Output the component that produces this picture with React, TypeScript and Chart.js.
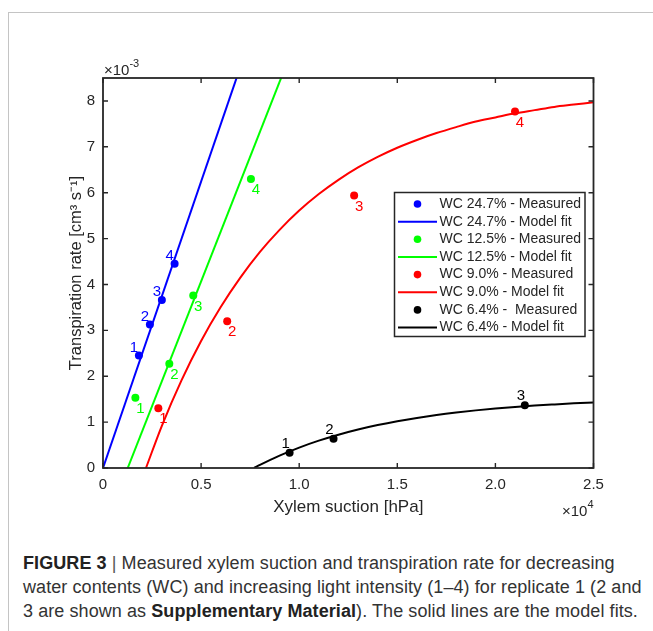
import React, { useEffect, useRef } from "react";
import { Chart, registerables } from "chart.js";
Chart.register(...registerables);

// ---- data (x in 10^4 hPa, y in 10^-3 cm^3 s^-1) ----
const xTicks = [0, 0.5, 1, 1.5, 2, 2.5];
const yTicks = [0, 1, 2, 3, 4, 5, 6, 7, 8];

const measuredLabels = [
  "WC 24.7% - Measured",
  "WC 12.5% - Measured",
  "WC 9.0% - Measured",
  "WC 6.4% -  Measured",
];
const fitLabels = [
  "WC 24.7% - Model fit",
  "WC 12.5% - Model fit",
  "WC 9.0% - Model fit",
  "WC 6.4% - Model fit",
];
const seriesColors = ["#0000ff", "#00ff00", "#ff0000", "#000000"];

const wc247X = [0.183, 0.239, 0.3, 0.365];
const wc247Y = [2.45, 3.13, 3.66, 4.45];
const wc125X = [0.165, 0.338, 0.46, 0.754];
const wc125Y = [1.53, 2.27, 3.76, 6.3];
const wc90X = [0.282, 0.633, 1.28, 2.1];
const wc90Y = [1.3, 3.2, 5.94, 7.77];
const wc64X = [0.951, 1.175, 2.15];
const wc64Y = [0.33, 0.64, 1.37];

const light247 = ["1", "2", "3", "4"];
const light125 = ["1", "2", "3", "4"];
const light90 = ["1", "2", "3", "4"];
const light64 = ["1", "2", "3"];

const fit247X = [0, 0.72];
const fit247Y = [0, 8.99];
const fit125X = [0.126, 0.95];
const fit125Y = [0, 8.96];
const fit90X = [0.219, 0.3, 0.4, 0.5, 0.6, 0.7, 0.8, 0.9, 1.0, 1.1, 1.2, 1.3, 1.4, 1.5, 1.6, 1.7, 1.8, 1.9, 2.0, 2.1, 2.2, 2.3, 2.4, 2.5];
const fit90Y = [0, 0.92, 1.91, 2.77, 3.51, 4.15, 4.71, 5.19, 5.61, 5.97, 6.28, 6.55, 6.78, 6.98, 7.15, 7.3, 7.43, 7.55, 7.64, 7.73, 7.8, 7.87, 7.92, 7.97];
const fit64X = [0.77, 0.8, 0.9, 1.0, 1.1, 1.2, 1.3, 1.4, 1.5, 1.6, 1.7, 1.8, 1.9, 2.0, 2.1, 2.2, 2.3, 2.4, 2.5];
const fit64Y = [0, 0.067, 0.27, 0.445, 0.596, 0.726, 0.839, 0.936, 1.02, 1.092, 1.155, 1.209, 1.256, 1.296, 1.331, 1.361, 1.386, 1.409, 1.428];

const measuredX = [wc247X, wc125X, wc90X, wc64X];
const measuredY = [wc247Y, wc125Y, wc90Y, wc64Y];
const lightLabels = [light247, light125, light90, light64];
const fitX = [fit247X, fit125X, fit90X, fit64X];
const fitY = [fit247Y, fit125Y, fit90Y, fit64Y];

// label offsets (style)
const labelOffsets = [
  [-5, -8],
  [5, 11],
  [5, 11],
  [-4, -9],
];

const FONT = "'Liberation Sans', Arial, Helvetica, sans-serif";
const AXIS_COLOR = "#262626";

const zip = (xs: number[], ys: number[]) => xs.map((x, i) => ({ x, y: ys[i] }));

const decorPlugin = {
  id: "decor",
  afterDatasetsDraw(chart: any) {
    const { ctx, chartArea, scales } = chart;
    const { left, right, top, bottom } = chartArea;
    const xs = scales.x;
    const ys = scales.y;
    ctx.save();
    // point labels
    ctx.font = `15px ${FONT}`;
    ctx.textAlign = "center";
    ctx.textBaseline = "middle";
    for (let s = 0; s < 4; s++) {
      ctx.fillStyle = seriesColors[s];
      measuredX[s].forEach((xv, i) => {
        const px = xs.getPixelForValue(xv) + labelOffsets[s][0];
        const py = ys.getPixelForValue(measuredY[s][i]) + labelOffsets[s][1];
        ctx.fillText(lightLabels[s][i], px, py);
      });
    }
    // axes box
    ctx.strokeStyle = AXIS_COLOR;
    ctx.lineWidth = 1.8;
    ctx.strokeRect(left, top, right - left, bottom - top);
    // inward ticks
    ctx.lineWidth = 1.4;
    const tl = 5;
    ctx.beginPath();
    xTicks.forEach((v) => {
      const px = xs.getPixelForValue(v);
      ctx.moveTo(px, bottom);
      ctx.lineTo(px, bottom - tl);
      ctx.moveTo(px, top);
      ctx.lineTo(px, top + tl);
    });
    yTicks.forEach((v) => {
      const py = ys.getPixelForValue(v);
      ctx.moveTo(left, py);
      ctx.lineTo(left + tl, py);
      ctx.moveTo(right, py);
      ctx.lineTo(right - tl, py);
    });
    ctx.stroke();
    // exponent labels
    ctx.fillStyle = AXIS_COLOR;
    ctx.textAlign = "left";
    ctx.textBaseline = "alphabetic";
    ctx.font = `15px ${FONT}`;
    ctx.fillText("\u00d710", left + 1, top - 3);
    const w = ctx.measureText("\u00d710").width;
    ctx.font = `11px ${FONT}`;
    ctx.fillText("-3", left + 1 + w, top - 11);
    // x multiplier
    ctx.font = `11px ${FONT}`;
    const w4 = ctx.measureText("4").width;
    ctx.font = `15px ${FONT}`;
    const w10 = ctx.measureText("\u00d710").width;
    ctx.fillText("\u00d710", right - w4 - w10, bottom + 48);
    ctx.font = `11px ${FONT}`;
    ctx.fillText("4", right - w4, bottom + 40);

    // legend
    const lx = 394.5, ly = 192.5, lw = 190.5, lh = 144;
    ctx.fillStyle = "#ffffff";
    ctx.fillRect(lx, ly, lw, lh);
    ctx.strokeStyle = AXIS_COLOR;
    ctx.lineWidth = 1.5;
    ctx.strokeRect(lx, ly, lw, lh);
    const entries: { label: string; color: string; kind: string }[] = [];
    for (let s = 0; s < 4; s++) {
      entries.push({ label: measuredLabels[s], color: seriesColors[s], kind: "point" });
      entries.push({ label: fitLabels[s], color: seriesColors[s], kind: "line" });
    }
    ctx.font = `14px ${FONT}`;
    ctx.textBaseline = "middle";
    entries.forEach((e, i) => {
      const cy = 204 + i * 17.65;
      if (e.kind === "point") {
        ctx.fillStyle = e.color;
        ctx.beginPath();
        ctx.arc(417.5, cy, 3.8, 0, Math.PI * 2);
        ctx.fill();
      } else {
        ctx.strokeStyle = e.color;
        ctx.lineWidth = 2;
        ctx.beginPath();
        ctx.moveTo(398, cy);
        ctx.lineTo(437, cy);
        ctx.stroke();
      }
      ctx.fillStyle = AXIS_COLOR;
      ctx.fillText(e.label, 439.5, cy);
    });
    ctx.restore();
  },
};

export default function App() {
  const ref = useRef<HTMLCanvasElement | null>(null);
  useEffect(() => {
    if (!ref.current) return;
    const datasets: any[] = [];
    for (let s = 0; s < 4; s++) {
      datasets.push({
        type: "scatter",
        label: measuredLabels[s],
        data: zip(measuredX[s], measuredY[s]),
        backgroundColor: seriesColors[s],
        borderColor: seriesColors[s],
        pointRadius: 4,
        pointBorderWidth: 0,
        showLine: false,
        order: 1,
      });
      datasets.push({
        type: "line",
        label: fitLabels[s],
        data: zip(fitX[s], fitY[s]),
        borderColor: seriesColors[s],
        backgroundColor: seriesColors[s],
        borderWidth: 2,
        pointRadius: 0,
        cubicInterpolationMode: "monotone",
        fill: false,
        order: 2,
      });
    }
    const chart = new Chart(ref.current, {
      type: "scatter",
      data: { datasets },
      options: {
        animation: false,
        responsive: false,
        maintainAspectRatio: false,
        layout: { padding: { left: 63, top: 78, right: 59.5, bottom: 22 } },
        plugins: { legend: { display: false }, tooltip: { enabled: false } },
        scales: {
          x: {
            type: "linear",
            min: 0,
            max: 2.5,
            afterBuildTicks: (sc: any) => {
              sc.ticks = xTicks.map((v) => ({ value: v }));
            },
            afterFit: (sc: any) => {
              sc.height = 50;
            },
            grid: { display: false, drawTicks: false },
            border: { display: false },
            ticks: {
              padding: 8,
              color: AXIS_COLOR,
              font: { family: FONT, size: 15 },
              maxRotation: 0,
              autoSkip: false,
            },
            title: {
              display: true,
              text: "Xylem suction [hPa]",
              color: AXIS_COLOR,
              font: { family: FONT, size: 17 },
              padding: { top: 0, bottom: 0 },
            },
          },
          y: {
            type: "linear",
            min: 0,
            max: 8.5,
            afterBuildTicks: (sc: any) => {
              sc.ticks = yTicks.map((v) => ({ value: v }));
            },
            afterFit: (sc: any) => {
              sc.width = 40;
            },
            grid: { display: false, drawTicks: false },
            border: { display: false },
            ticks: {
              padding: 8,
              color: AXIS_COLOR,
              font: { family: FONT, size: 15 },
              autoSkip: false,
            },
            title: {
              display: true,
              text: "Transpiration rate [cm\u00b3 s\u207b\u00b9]",
              color: AXIS_COLOR,
              font: { family: FONT, size: 16.5 },
              padding: { top: 4, bottom: 0 },
            },
          },
        },
      },
      plugins: [decorPlugin],
    });
    return () => chart.destroy();
  }, []);

  return (
    <div>
      <div
        style={{
          position: "absolute",
          left: 8,
          top: 12,
          width: 700,
          height: 700,
          borderLeft: "1px solid #c4c4c4",
          borderTop: "1px solid #c4c4c4",
          boxSizing: "border-box",
        }}
      />
      <canvas
        ref={ref}
        width={653}
        height={540}
        style={{ position: "absolute", left: 0, top: 0, width: 653, height: 540 }}
      />
      <div
        style={{
          position: "absolute",
          left: 23,
          top: 551,
          fontFamily: FONT,
          fontSize: 18,
          lineHeight: "24px",
          letterSpacing: "0.08px",
          color: "#333",
          whiteSpace: "nowrap",
        }}
      >
        <b style={{ color: "#222" }}>FIGURE 3</b> <span style={{ color: "#555" }}>|</span> Measured xylem suction and transpiration rate for decreasing
        <br />
        water contents (WC) and increasing light intensity (1–4) for replicate 1 (2 and
        <br />
        3 are shown as <b style={{ color: "#222" }}>Supplementary Material</b>). The solid lines are the model fits.
      </div>
    </div>
  );
}
